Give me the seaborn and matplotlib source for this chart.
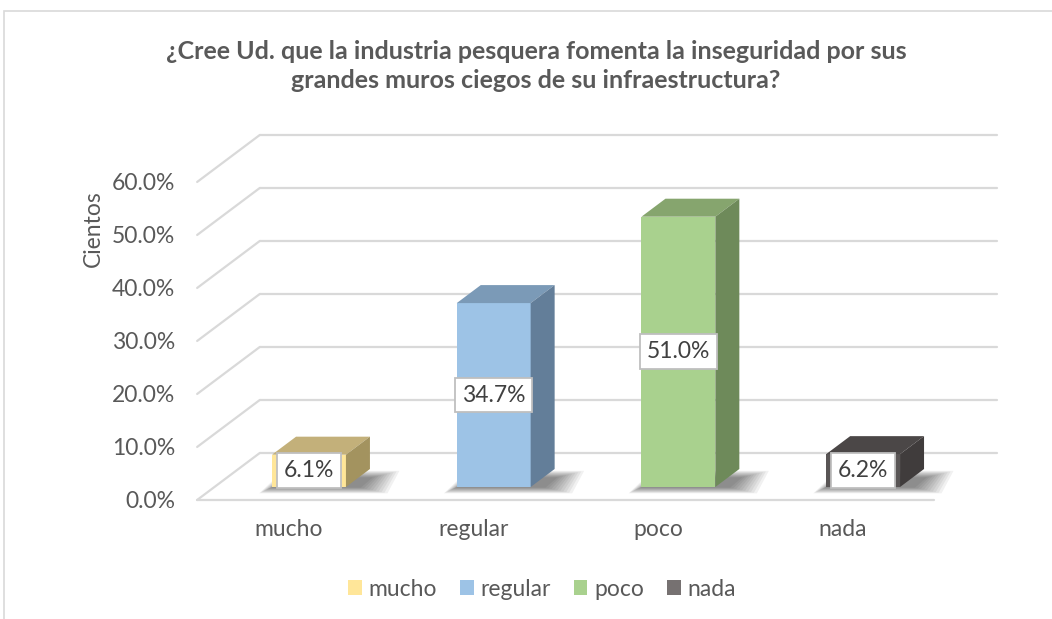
import seaborn as sns
import matplotlib.pyplot as plt
import pandas as pd
from matplotlib.patches import Polygon, Rectangle, Patch

# data
categorias = ["mucho", "regular", "poco", "nada"]
valores = [6.1, 34.7, 51.0, 6.2]
ticks_y = [0, 10, 20, 30, 40, 50, 60]
titulo = "¿Cree Ud. que la industria pesquera fomenta la inseguridad por sus\ngrandes muros ciegos de su infraestructura?"
eje_y = "Cientos"

# colores: frente, arriba, lado
c_frente = ["#FFE699", "#9DC3E6", "#A9D18E", "#595555"]
c_arriba = ["#C3B07A", "#7B9AB7", "#86A56E", "#4B4747"]
c_lado = ["#A3935F", "#637E99", "#6E8A5A", "#403C3C"]
c_leyenda = ["#FFE699", "#9DC3E6", "#A9D18E", "#767171"]

sns.set_theme(style="white")
plt.rcParams['font.family'] = ['Lato', 'DejaVu Sans']
gris = "#595959"
fs = 16.5

W, H = 1052, 619
fig = plt.figure(figsize=(W / 100, H / 100), dpi=100)

# mapeo en pixeles del plano frontal de las barras
px0, sx = 309, 184.7   # x de la categoria 0, pixeles por categoria
py0, sy = 487, 5.3     # y del 0 %, pixeles por punto
L, R, T, B = 185, 1020, 120, 505
ax = fig.add_axes([L / W, 1 - B / H, (R - L) / W, (B - T) / H])

# profundidad (oblicua)
dx, dy = 24 / sx, 18 / sy          # fondo de la barra
fdx, fdy = -0.72 * dx, -0.72 * dy   # plano frontal del piso
wdx, wdy = 1.89 * dx, 1.89 * dy     # pared de fondo
x_izq, x_der = -0.512, 3.48

df = pd.DataFrame({"categoria": categorias, "valor": valores})
sns.barplot(data=df, x="categoria", y="valor", hue="categoria",
            palette=c_frente, width=0.4, legend=False, ax=ax,
            saturation=1, zorder=5, linewidth=0)
ax.set_xlim((L - px0) / sx, (R - px0) / sx)
ax.set_ylim((py0 - B) / sy, (py0 - T) / sy)

# rejilla en perspectiva
lc = "#D9D9D9"
for v in ticks_y:
    ax.plot([x_izq + fdx, x_izq + wdx], [v + fdy, v + wdy], color=lc, lw=1.6, zorder=1, clip_on=False)
    ax.plot([x_izq + wdx, x_der + wdx], [v + wdy, v + wdy], color=lc, lw=1.6, zorder=1, clip_on=False)
ax.plot([x_izq + fdx, x_der + fdx], [fdy, fdy], color=lc, lw=1.6, zorder=1, clip_on=False)

# caras 3D, sombra y etiquetas
for i, p in enumerate(ax.patches[:len(valores)]):
    x0, w, h = p.get_x(), p.get_width(), p.get_height()
    # sombra difusa
    n = 10
    for k in range(n):
        f = 1 - k / n
        izq = x0 - 0.07 * f
        der = x0 + w + dx + 0.16 * f
        y_lo = -1.2 * f
        y_hi = dy * (0.5 + 0.4 * f)
        sh = Polygon([(izq, y_lo), (der - dx * 0.5, y_lo), (der, y_hi), (izq + dx, y_hi)],
                     closed=True, facecolor="black", edgecolor="none", alpha=0.055, zorder=2)
        ax.add_patch(sh)
    ax.add_patch(Polygon([(x0, h), (x0 + w, h), (x0 + w + dx, h + dy), (x0 + dx, h + dy)],
                         closed=True, facecolor=c_arriba[i], edgecolor="none", zorder=5))
    ax.add_patch(Polygon([(x0 + w, 0), (x0 + w, h), (x0 + w + dx, h + dy), (x0 + w + dx, dy)],
                         closed=True, facecolor=c_lado[i], edgecolor="none", zorder=5))
    ax.text(x0 + w / 2, h / 2, f"{valores[i]:.1f}%", ha="center", va="center",
            fontsize=fs, color="#404040", zorder=8,
            bbox=dict(boxstyle="square,pad=0.3", facecolor="white", edgecolor="#BFBFBF", lw=1.3))

ax.set_yticks([v + fdy for v in ticks_y], [f"{v:.1f}%" for v in ticks_y])
ax.set_xticks([i + fdx - 0.015 for i in range(len(categorias))], categorias)
ax.tick_params(axis="both", length=0, labelsize=fs, labelcolor=gris)
ax.tick_params(axis="y", pad=7)
ax.tick_params(axis="x", pad=10)
ax.set_xlabel("")
ax.set_ylabel("")
for s in ax.spines.values():
    s.set_visible(False)
ax.patch.set_alpha(0)

fig.text(93 / W, 1 - 229 / H, eje_y, rotation=90, ha="center", va="center", fontsize=fs, color=gris)
fig.text(536 / W, 1 - 66 / H, titulo, ha="center", va="center", fontsize=18,
         fontweight="bold", color=gris, linespacing=1.3)

handles = [Patch(facecolor=c, edgecolor="none", label=n) for c, n in zip(c_leyenda, categorias)]
fig.legend(handles=handles, loc="center", bbox_to_anchor=(542 / W, 1 - 589 / H), ncol=4,
           frameon=False, fontsize=fs, labelcolor=gris, handlelength=0.6, handleheight=0.6,
           handletextpad=0.3, columnspacing=1.0)

# marco del grafico
fig.patches.append(Rectangle((4 / W, -0.1), 1.2, 1 - 11 / H + 0.1, transform=fig.transFigure,
                             facecolor="none", edgecolor="#D9D9D9", lw=1.2, zorder=0))

fig.savefig("out.png", dpi=100, facecolor="white")
